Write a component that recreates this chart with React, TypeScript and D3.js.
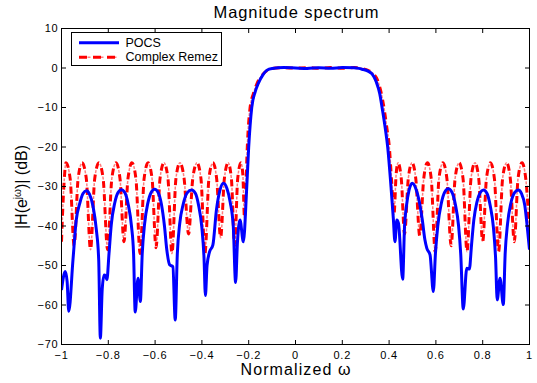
import React from "react";
import * as d3 from "d3";

// ---------- data ----------
const xTickValues = [-1, -0.8, -0.6, -0.4, -0.2, 0, 0.2, 0.4, 0.6, 0.8, 1];
const yTickValues = [10, 0, -10, -20, -30, -40, -50, -60, -70];

// POCS design (solid blue)
const pocsW = [
  -1, -0.984, -0.976, -0.969, -0.951, -0.937, -0.922, -0.908, -0.894, -0.88, -0.865, -0.851, -0.841,
  -0.834, -0.826, -0.818, -0.812, -0.806,
  -0.797, -0.787, -0.773, -0.759, -0.744, -0.729, -0.715, -0.701, -0.692,
  -0.685, -0.673, -0.663,
  -0.655, -0.645, -0.631, -0.617, -0.602, -0.587, -0.573, -0.56, -0.55,
  -0.538, -0.524, -0.514,
  -0.505, -0.495, -0.48, -0.463, -0.444, -0.428, -0.414, -0.4, -0.391,
  -0.385, -0.378, -0.367, -0.353,
  -0.338, -0.323, -0.308, -0.293, -0.279, -0.266, -0.256, -0.248, -0.237, -0.223,
  -0.209, -0.2, -0.187, -0.172, -0.159, -0.14, -0.123, -0.1, -0.05, 0, 0.05, 0.1, 0.15, 0.2, 0.25, 0.27,
  0.284, 0.31, 0.327, 0.345, 0.36, 0.37, 0.383, 0.394, 0.408, 0.418, 0.425, 0.433, 0.44, 0.458,
  0.466, 0.474, 0.485, 0.499, 0.514, 0.528, 0.542, 0.553, 0.561, 0.575, 0.589,
  0.598, 0.608, 0.623, 0.638, 0.653, 0.668, 0.683, 0.697, 0.706, 0.717, 0.732, 0.743,
  0.752, 0.762, 0.775, 0.789, 0.803, 0.818, 0.832, 0.846, 0.855, 0.862, 0.874, 0.888,
  0.896, 0.906, 0.92, 0.937, 0.952, 0.966, 0.98, 0.99, 1,
];
const pocsDb = [
  -56.2, -51.5, -54, -61.6, -48.6, -38.5, -34.3, -31.8, -31.1, -32, -35.1, -41, -48.6,
  -68.4, -56, -52.4, -52.6, -53.6,
  -47, -39.5, -34.3, -31.6, -30.8, -31.6, -34.5, -40, -47,
  -61.8, -53.2, -59.1,
  -47, -39.5, -34.2, -31.5, -30.7, -31.5, -34.5, -40, -46,
  -49.8, -50.3, -63.8,
  -47, -39.5, -34.5, -31.6, -30.9, -31.7, -34.8, -40.5, -48,
  -57.6, -50, -46.5, -44.8,
  -36, -31, -29.2, -30.5, -34, -40, -54.3, -44, -38.5, -44,
  -31, -20, -10, -6, -3.9, -1.8, -0.6, -0.1, 0.1, 0, -0.1, 0.05, -0.05, 0.1, 0.05, -0.1,
  -0.3, -0.8, -1.5, -3.5, -6.5, -10, -15, -20, -30, -38, -44, -38.5, -39.3, -53.5,
  -40, -35, -31, -29.2, -30.5, -33.5, -38.5, -43.5, -45.6, -47.3, -56.6,
  -47, -40, -34.3, -31.4, -30.6, -31.4, -34.5, -40, -47, -61, -50.7, -50.9,
  -45, -38.5, -34, -31.6, -30.9, -31.7, -34.8, -40.5, -48, -58.7, -53.2, -59.9,
  -47, -39.5, -34.3, -31.5, -30.9, -31.8, -34.8, -40, -46,
];

// Complex Remez design (red dash-dot)
const remezW = [
  -1, -0.99, -0.981, -0.963, -0.946,
  -0.929, -0.912, -0.894, -0.876,
  -0.858, -0.84, -0.822, -0.803,
  -0.785, -0.767, -0.75, -0.733,
  -0.716, -0.699, -0.682, -0.664,
  -0.647, -0.63, -0.613, -0.596,
  -0.579, -0.562, -0.545, -0.528,
  -0.511, -0.494, -0.476, -0.457,
  -0.439, -0.421, -0.404, -0.387,
  -0.37, -0.353, -0.337, -0.32,
  -0.304, -0.288, -0.274, -0.26,
  -0.247, -0.233, -0.225, -0.218,
  -0.212, -0.206, -0.194, -0.18, -0.165, -0.145, -0.125, -0.105, -0.08,
  -0.05, 0, 0.05, 0.1, 0.15, 0.2, 0.25, 0.275,
  0.29, 0.31, 0.33, 0.35, 0.365, 0.378, 0.39, 0.401, 0.41, 0.421, 0.43, 0.438,
  0.452, 0.466, 0.482, 0.498, 0.514, 0.531, 0.548, 0.564, 0.58, 0.597, 0.613, 0.63,
  0.647, 0.665, 0.682, 0.699, 0.716, 0.733, 0.75, 0.767, 0.783, 0.8, 0.816, 0.833,
  0.85, 0.868, 0.885, 0.902, 0.918, 0.935, 0.951, 0.968, 0.984, 1,
];
const remezDb = [
  -44, -30, -24, -28, -45,
  -28, -24, -28, -46,
  -28, -24, -28, -46,
  -28, -24, -28, -44,
  -28, -24, -28, -47,
  -28, -24, -28, -45.5,
  -28, -24, -28, -47,
  -28, -24, -28, -42,
  -28, -24, -28, -47,
  -28, -24, -28, -43,
  -28, -24, -28, -45,
  -28, -24, -27, -38,
  -30, -20, -10, -6.5, -4, -2, -0.8, -0.2, 0,
  0.1, -0.05, 0.1, -0.05, 0.1, -0.05, 0.1, 0,
  -0.2, -0.6, -1.3, -3, -6, -10, -15, -20, -28, -37, -27, -24,
  -28, -42, -28, -24, -28, -42.5, -28, -24, -28, -46.5, -28, -24,
  -28, -45, -28, -24, -28, -46.5, -28, -24, -28, -44, -28, -24,
  -28, -46.5, -28, -24, -28, -44, -28, -24, -28, -42,
];

const legendLabels = ["POCS", "Complex Remez"];
const titleText = "Magnitude spectrum";
const xLabelText = "Normalized \u03c9";
const yLabelParts = ["|H(e", "j\u03c9", ")| (dB)"];

// ---------- chart ----------
const W = 537;
const H = 383;
const FONT = "'Liberation Sans', Arial, Helvetica, sans-serif";

export default function App() {
  const x = d3.scaleLinear().domain([-1, 1]).range([61.5, 529.5]);
  const y = d3.scaleLinear().domain([-70, 10]).range([344.5, 28.5]);
  const [x0, x1] = x.range();
  const [yb, yt] = y.range();

  const line = d3
    .line<[number, number]>()
    .x((d) => x(d[0]))
    .y((d) => y(d[1]))
    .curve(d3.curveMonotoneX);

  const pocs = pocsW.map((w, i) => [w, pocsDb[i]] as [number, number]);
  const remez = remezW.map((w, i) => [w, remezDb[i]] as [number, number]);
  const pocsPath = line(pocs) || "";
  const remezPath = line(remez) || "";

  const fmt = (v: number) => (v < 0 ? "\u2212" + String(-v) : String(v));
  const tickLen = 4.5;

  const legX = 71.5, legY = 32.5, legW = 150, legH = 33;
  const row1 = 42.7, row2 = 57.3;

  return (
    <svg
      width={W}
      height={H}
      style={{ position: "absolute", left: 0, top: 0, background: "#fff" }}
      fontFamily={FONT}
    >
      <defs>
        <clipPath id="plotClip">
          <rect x={x0} y={yt} width={x1 - x0} height={yb - yt} />
        </clipPath>
      </defs>
      <rect x={0} y={0} width={W} height={H} fill="#fff" />

      {/* curves */}
      <g clipPath="url(#plotClip)" fill="none">
        <path d={remezPath} stroke="#ff0000" strokeWidth={1.5} strokeOpacity={0.5}
          strokeDasharray="0 8.5 3 1.5" />
        <path d={remezPath} stroke="#ff0000" strokeWidth={3} strokeDasharray="7 6" />
        <path d={pocsPath} stroke="#0000ff" strokeWidth={3} strokeLinejoin="round" />
      </g>

      {/* axes box */}
      <rect x={x0} y={yt} width={x1 - x0} height={yb - yt} fill="none" stroke="#000" strokeWidth={1} />

      {/* x ticks */}
      {xTickValues.map((v) => (
        <g key={"xt" + v}>
          <line x1={x(v)} x2={x(v)} y1={yb} y2={yb - tickLen} stroke="#000" />
          <line x1={x(v)} x2={x(v)} y1={yt} y2={yt + tickLen} stroke="#000" />
          <text x={x(v)} y={359.3} fontSize={11} textAnchor="middle" letterSpacing={0.8} fill="#000">
            {fmt(v)}
          </text>
        </g>
      ))}

      {/* y ticks */}
      {yTickValues.map((v) => (
        <g key={"yt" + v}>
          <line x1={x0} x2={x0 + tickLen} y1={y(v)} y2={y(v)} stroke="#000" />
          <line x1={x1} x2={x1 - tickLen} y1={y(v)} y2={y(v)} stroke="#000" />
          <text x={58.5} y={y(v)} dy="0.36em" fontSize={11} textAnchor="end" letterSpacing={0.8} fill="#000">
            {fmt(v)}
          </text>
        </g>
      ))}

      {/* title */}
      <text x={296} y={18.3} fontSize={16.5} textAnchor="middle" textLength={165} lengthAdjust="spacing" fill="#000">
        {titleText}
      </text>

      {/* x label */}
      <text x={295.5} y={375} fontSize={16} textAnchor="middle" textLength={110} lengthAdjust="spacing" fill="#000">
        {xLabelText}
      </text>

      {/* y label */}
      <text transform="translate(26.5,187) rotate(-90)" fontSize={16} textAnchor="middle" fill="#000">
        <tspan>{yLabelParts[0]}</tspan>
        <tspan fontSize={10} dy={-6}>{yLabelParts[1]}</tspan>
        <tspan dy={6}>{yLabelParts[2]}</tspan>
      </text>

      {/* legend */}
      <rect x={legX} y={legY} width={legW} height={legH} fill="#fff" stroke="#000" strokeWidth={1} />
      <line x1={79} x2={119} y1={row1} y2={row1} stroke="#0000ff" strokeWidth={3} />
      <line x1={79} x2={119} y1={row2} y2={row2} stroke="#ff0000" strokeWidth={1.5} strokeOpacity={0.5}
        strokeDasharray="0 8.5 3 1.5" />
      <line x1={79} x2={119} y1={row2} y2={row2} stroke="#ff0000" strokeWidth={3} strokeDasharray="8 6" />
      <text x={125.5} y={46.7} fontSize={12.5} fill="#000">{legendLabels[0]}</text>
      <text x={125.5} y={61.2} fontSize={12.5} fill="#000">{legendLabels[1]}</text>
    </svg>
  );
}
